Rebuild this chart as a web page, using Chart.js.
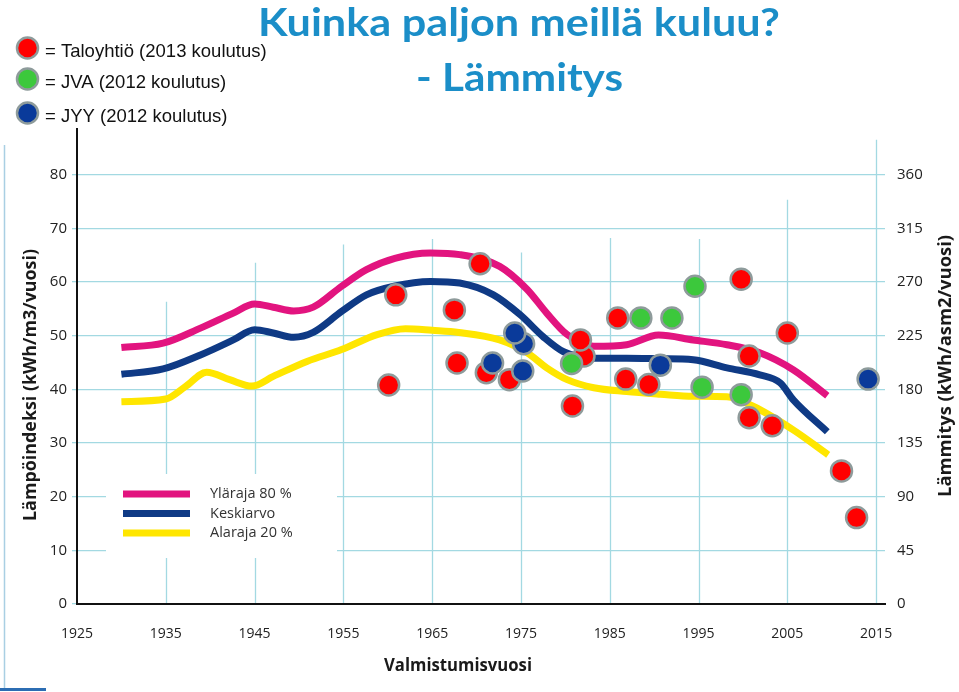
<!DOCTYPE html>
<html lang="fi">
<head>
<meta charset="utf-8">
<title>Kuinka paljon meillä kuluu? - Lämmitys</title>
<script src="https://cdn.jsdelivr.net/npm/chart.js@4.4.1/dist/chart.umd.min.js"></script>
<style>
  html, body { margin: 0; padding: 0; background: #fff; }
  #wrap { position: relative; width: 959px; height: 692px; }
</style>
</head>
<body>
<div id="wrap"><canvas id="chart" width="959" height="692"></canvas></div>
<script>
const COLORS = {
  high: "#e2147f",
  avg: "#0f3a85",
  low: "#ffe600",
  red: "#ff0000",
  green: "#3cc83c",
  blue: "#0a3a9a",
  ring: "#8e9b9b",
  grid: "#a3d9e2",
  title: "#1b8ec8",
  ink: "#1a1a1a",
};

// axes
const X_TICKS = [1925, 1935, 1945, 1955, 1965, 1975, 1985, 1995, 2005, 2015];
const Y_TICKS = [0, 10, 20, 30, 40, 50, 60, 70, 80];
const Y2_TICKS = [0, 45, 90, 135, 180, 225, 270, 315, 360];
const Y_MAX = 88.5;
const Y2_FACTOR = 4.5; // kWh/m3 -> kWh/asm2

// decade grid lines only reach part way up (lämpöindeksi units, 1935..2015)
const VGRID_YEARS = [1935, 1945, 1955, 1965, 1975, 1985, 1995, 2005, 2015];
const VGRID_TOP = [56.3, 63.6, 67, 68, 65.5, 68.2, 68, 75.3, 86.5];

// Yläraja 80 %
const HIGH_X = [1930, 1934.7, 1938.9, 1942.6, 1945, 1947.1, 1949.4, 1951.6, 1954.8, 1957.6, 1960.8, 1964.8, 1968.1, 1972.6, 1975.7, 1977.9, 1980.2, 1983.2, 1986.9, 1990.5, 1994.4, 1998.2, 2001.9, 2005.7, 2009.5];
const HIGH_Y = [47.8, 48.6, 51.4, 54.2, 55.9, 55.3, 54.6, 55.3, 59.2, 62.3, 64.4, 65.4, 65.1, 62.9, 58.6, 54.2, 50.2, 48.0, 48.3, 50.1, 49.2, 48.3, 46.8, 43.6, 38.8];

// Keskiarvo
const AVG_X = [1930, 1934.7, 1938.9, 1942.6, 1945, 1947.1, 1949.4, 1951.6, 1954.8, 1957.6, 1960.7, 1964.8, 1968.1, 1971.9, 1974.9, 1977.5, 1979.8, 1983.2, 1986.9, 1990.7, 1994.4, 1998.2, 2001.9, 2004.2, 2005.7, 2009.5];
const AVG_Y = [42.8, 43.8, 46.4, 49.2, 51.1, 50.5, 49.7, 50.6, 54.5, 57.6, 59.2, 60.1, 59.8, 57.6, 53.9, 49.8, 47.0, 45.8, 45.8, 45.7, 45.5, 44.0, 42.7, 41.2, 38.0, 32.1];

// Alaraja 20 %
const LOW_X = [1930, 1935, 1937.2, 1939.6, 1942.2, 1944.7, 1947.1, 1950.9, 1954.8, 1958.8, 1962, 1965, 1968, 1972.6, 1975.7, 1977.9, 1980.2, 1983.2, 1986.9, 1990.7, 1994.4, 1998.2, 2001.2, 2005.7, 2009.6];
const LOW_Y = [37.7, 38.2, 40.5, 43.2, 41.8, 40.6, 42.4, 45.2, 47.4, 50.2, 51.3, 51.0, 50.6, 49.2, 46.8, 44.0, 41.8, 40.3, 39.6, 39.1, 38.7, 38.6, 36.8, 32.4, 27.8];

// Taloyhtiö (2013 koulutus)
const RED_X = [1960.1, 1960.9, 1967.5, 1967.8, 1970.4, 1971.1, 1973.7, 1982.1, 1981.7, 1980.8, 1985.9, 1986.8, 1989.4, 1999.8, 2000.7, 2000.7, 2003.3, 2005.0, 2011.1, 2012.8];
const RED_Y = [40.8, 57.6, 54.8, 44.9, 63.4, 43.1, 41.8, 46.2, 49.2, 36.9, 53.3, 41.9, 40.9, 60.5, 46.2, 34.7, 33.2, 50.5, 24.8, 16.1];

// JVA (2012 koulutus)
const GREEN_X = [1980.7, 1988.5, 1992.0, 1994.6, 1995.4, 1999.8];
const GREEN_Y = [44.8, 53.3, 53.3, 59.2, 40.4, 39.0];

// JYY (2012 koulutus)
const BLUE_X = [1971.8, 1975.3, 1974.3, 1975.2, 1990.7, 2014.1];
const BLUE_Y = [44.9, 48.5, 50.5, 43.4, 44.5, 41.9];

const pts = (xs, ys) => xs.map((x, i) => ({ x, y: ys[i] }));

function curve(label, xs, ys, color, order) {
  return {
    type: "line", label, data: pts(xs, ys), order,
    borderColor: color, borderWidth: 7, borderCapStyle: "butt",
    pointRadius: 0, cubicInterpolationMode: "monotone", fill: false,
  };
}

function dots(label, xs, ys, color, order) {
  return {
    type: "scatter", label, data: pts(xs, ys), order,
    pointRadius: 10.5, pointBackgroundColor: color,
    pointBorderColor: COLORS.ring, pointBorderWidth: 2.5,
  };
}

function fitText(ctx, text, x, y, width, font, rot) {
  ctx.save();
  ctx.font = font;
  const w = ctx.measureText(text).width;
  ctx.translate(x, y);
  if (rot) ctx.rotate(rot);
  ctx.scale(width / w, 1);
  ctx.fillText(text, 0, 0);
  ctx.restore();
}

const decor = {
  id: "decor",
  beforeDatasetsDraw(chart) {
    const { ctx, scales: { x, y } } = chart;
    ctx.save();
    ctx.strokeStyle = COLORS.grid;
    ctx.lineWidth = 1.3;
    VGRID_YEARS.forEach((yr, i) => {
      const px = Math.round(x.getPixelForValue(yr)) + 0.5;
      ctx.beginPath();
      ctx.moveTo(px, y.getPixelForValue(0) - 1);
      ctx.lineTo(px, y.getPixelForValue(VGRID_TOP[i]));
      ctx.stroke();
    });

    // legend box inside the plot
    ctx.fillStyle = "#fff";
    ctx.fillRect(106, 474, 231, 84);
    const rows = [["Yläraja 80 %", COLORS.high], ["Keskiarvo", COLORS.avg], ["Alaraja 20 %", COLORS.low]];
    ctx.lineWidth = 7;
    ctx.lineCap = "butt";
    ctx.font = "14.5px 'Open Sans'";
    ctx.textBaseline = "middle";
    rows.forEach(([t, c], i) => {
      const yy = 494 + i * 19.5;
      ctx.strokeStyle = c;
      ctx.beginPath(); ctx.moveTo(123, yy); ctx.lineTo(190, yy); ctx.stroke();
      ctx.fillStyle = "#333";
      ctx.fillText(t, 210, yy);
    });
    ctx.restore();
  },
  afterDraw(chart) {
    const { ctx } = chart;
    ctx.save();

    // slide edge leftovers
    ctx.strokeStyle = "#a9cfe3"; ctx.lineWidth = 1.5;
    ctx.beginPath(); ctx.moveTo(4.5, 145); ctx.lineTo(4.5, 688); ctx.stroke();
    ctx.strokeStyle = "#2c6db3"; ctx.lineWidth = 3;
    ctx.beginPath(); ctx.moveTo(0, 689.5); ctx.lineTo(46, 689.5); ctx.stroke();

    // heading
    ctx.fillStyle = COLORS.title;
    ctx.textAlign = "left";
    ctx.textBaseline = "alphabetic";
    fitText(ctx, "Kuinka paljon meillä kuluu?", 258, 36, 522, "bold 39px Lato");
    fitText(ctx, "- Lämmitys", 416, 91, 207, "bold 39px Lato");

    // series key, top left
    const keys = [["= Taloyhtiö (2013 koulutus)", COLORS.red, 48], ["= JVA (2012 koulutus)", COLORS.green, 79], ["= JYY (2012 koulutus)", COLORS.blue, 113]];
    keys.forEach(([t, c, cy]) => {
      ctx.beginPath();
      ctx.arc(27.5, cy, 10.5, 0, Math.PI * 2);
      ctx.fillStyle = c; ctx.fill();
      ctx.lineWidth = 2.5; ctx.strokeStyle = COLORS.ring; ctx.stroke();
      ctx.fillStyle = "#111";
      ctx.font = "18.5px 'Liberation Sans', Arial";
      ctx.fillText(t, 45, cy + 9);
    });

    // axis titles
    ctx.fillStyle = COLORS.ink;
    ctx.textAlign = "center";
    ctx.textBaseline = "middle";
    fitText(ctx, "Lämpöindeksi (kWh/m3/vuosi)", 31, 385, 272, "bold 17px 'Open Sans'", -Math.PI / 2);
    fitText(ctx, "Lämmitys (kWh/asm2/vuosi)", 946, 366, 262, "bold 17px 'Open Sans'", -Math.PI / 2);
    fitText(ctx, "Valmistumisvuosi", 458, 666, 148, "bold 17px 'Open Sans'");
    ctx.restore();
  },
};

new Chart(document.getElementById("chart"), {
  data: {
    datasets: [
      curve("Yläraja 80 %", HIGH_X, HIGH_Y, COLORS.high, 12),
      curve("Keskiarvo", AVG_X, AVG_Y, COLORS.avg, 11),
      curve("Alaraja 20 %", LOW_X, LOW_Y, COLORS.low, 10),
      dots("Taloyhtiö (2013 koulutus)", RED_X, RED_Y, COLORS.red, 3),
      dots("JVA (2012 koulutus)", GREEN_X, GREEN_Y, COLORS.green, 2),
      dots("JYY (2012 koulutus)", BLUE_X, BLUE_Y, COLORS.blue, 1),
    ],
  },
  options: {
    responsive: false,
    animation: false,
    devicePixelRatio: 1,
    layout: { padding: { top: 129, left: 0, right: 0, bottom: 0 } },
    plugins: { legend: { display: false }, tooltip: { enabled: false } },
    scales: {
      x: {
        type: "linear", position: "bottom", min: 1925, max: 2016,
        afterBuildTicks: s => { s.ticks = X_TICKS.map(v => ({ value: v })); },
        afterFit: s => { s.height = 88; },
        grid: { display: false, drawTicks: false },
        border: { display: true, color: "#111", width: 2 },
        ticks: { color: "#222", padding: 22, font: { family: "'Open Sans'", size: 14 }, callback: v => String(v) },
      },
      y: {
        type: "linear", position: "left", min: 0, max: Y_MAX,
        afterBuildTicks: s => { s.ticks = Y_TICKS.map(v => ({ value: v })); },
        afterFit: s => { s.width = 77; },
        grid: { color: COLORS.grid, lineWidth: 1.3, tickLength: 5, drawTicks: true },
        border: { display: true, color: "#111", width: 2 },
        ticks: { color: "#222", padding: 5, font: { family: "'Open Sans'", size: 15 } },
      },
      y2: {
        type: "linear", position: "right", min: 0, max: Y_MAX * Y2_FACTOR,
        afterBuildTicks: s => { s.ticks = Y2_TICKS.map(v => ({ value: v })); },
        afterFit: s => { s.width = 74; },
        grid: { display: false, drawTicks: false },
        border: { display: false },
        ticks: { color: "#222", padding: 12, font: { family: "'Open Sans'", size: 15 } },
      },
    },
  },
  plugins: [decor],
});
</script>
</body>
</html>
